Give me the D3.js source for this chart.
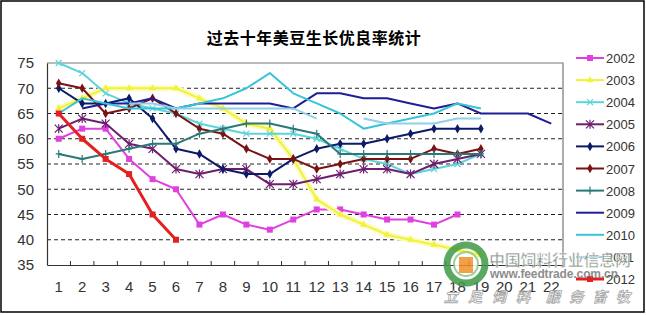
<!DOCTYPE html>
<html>
<head>
<meta charset="utf-8">
<script src="https://cdn.jsdelivr.net/npm/d3@7"></script>
<style>
  body { margin: 0; background: #fff; }
  svg { display: block; }
</style>
</head>
<body>
<script>
// weeks 1..22 on the x axis
const weeks = [1, 2, 3, 4, 5, 6, 7, 8, 9, 10, 11, 12, 13, 14, 15, 16, 17, 18, 19, 20, 21, 22];
const yTicks = [35, 40, 45, 50, 55, 60, 65, 70, 75];
const years = ['2002', '2003', '2004', '2005', '2006', '2007', '2008', '2009', '2010', '2011', '2012'];

// good/excellent rating (%) per week
const v2002 = [60, 62, 62, 56, 52, 50, 43, 45, 43, 42, 44, 46, 46, 45, 44, 44, 43, 45];
const v2003 = [66, 68, 70, 70, 70, 70, 68, 66, 63, 62, 56, 48, 45, 43, 41, 40, 39, 38, 37];
const v2004 = [75, 73, 69, 67, 66, 65, 63, 62, 61, 61, 61, 60, 58, 56, 55, 53, 54, 55, 57];
const v2005 = [62, 64, 63, 59, 58, 54, 53, 54, 54, 51, 51, 52, 53, 54, 54, 53, 55, 56, 57];
const v2006 = [70, 67, 67, 68, 64, 58, 57, 54, 53, 53, 56, 58, 59, 59, 60, 61, 62, 62, 62];
const v2007 = [71, 70, 65, 66, 68, 65, 62, 61, 58, 56, 56, 54, 55, 56, 56, 56, 58, 57, 58];
const v2008 = [57, 56, 57, 58, 59, 59, 61, 62, 63, 63, 62, 61, 57, 57, 57, 57, 57, 57, 57];
const v2009 = [null, 66, 67, 67, 68, 66, 67, 67, 67, 67, 66, 69, 69, 68, 68, 67, 66, 67, 65, 65, 65, 63];
const v2010 = [65, 68, 67, 66, 66, 66, 67, 68, 70, 73, 69, 67, 65, 62, 63, 64, 65, 67, 66];
const v2011 = [null, null, null, 67, 67, 66, 66, 66, 66, 66, 66, 64, null, 64, 63, 63, 63, 64, 64];
const v2012 = [65, 60, 56, 53, 45, 40];

const colors = ['#e040e0', '#f2f236', '#5cd4da', '#6e1e6e', '#0c1a6a', '#7a1212',
                '#2a7878', '#1e1e96', '#38c4d6', '#8fd0ea', '#e42020'];
const marks = ['square', 'triangle', 'times', 'asterisk', 'diamond', 'diamond',
               'plus', null, null, null, 'square'];
const widths = [2, 2, 2, 2, 2, 2, 2, 2, 2, 2, 3];
const values = [v2002, v2003, v2004, v2005, v2006, v2007, v2008, v2009, v2010, v2011, v2012];

const width = 646, height = 315;
const plotL = 47, plotR = 563, plotT = 63, plotB = 265;

const svg = d3.select('body').append('svg')
  .attr('width', width)
  .attr('height', height);

svg.append('rect')
  .attr('x', 1).attr('y', 1)
  .attr('width', width - 3).attr('height', height - 4)
  .attr('fill', '#fff').attr('stroke', '#000').attr('stroke-width', 1.5);

svg.append('text')
  .attr('x', 314).attr('y', 44)
  .attr('text-anchor', 'middle')
  .attr('font-family', '"Noto Sans CJK SC"')
  .attr('font-weight', 'bold')
  .attr('font-size', 16)
  .attr('letter-spacing', 0.5)
  .text('过去十年美豆生长优良率统计');

const x = d3.scaleBand().domain(weeks).range([plotL, plotR]);
const y = d3.scaleLinear().domain([35, 75]).range([plotB, plotT]);
const cx = d => x(d) + x.bandwidth() / 2;

// dashed gridlines
svg.append('g')
  .selectAll('line')
  .data(yTicks.filter(t => t > 35 && t < 75))
  .enter().append('line')
  .attr('x1', plotL).attr('x2', plotR)
  .attr('y1', d => y(d)).attr('y2', d => y(d))
  .attr('stroke', '#222').attr('stroke-dasharray', '4,3');

// plot frame (top / right in grey)
svg.append('path')
  .attr('d', `M${plotL},${plotT}H${plotR}V${plotB}`)
  .attr('fill', 'none').attr('stroke', '#777').attr('stroke-width', 1.2);

// y axis
const yAxis = svg.append('g')
  .attr('transform', `translate(${plotL},0)`)
  .call(d3.axisLeft(y).tickValues(yTicks).tickSize(0).tickPadding(13));
yAxis.select('.domain').attr('stroke', '#333').attr('stroke-width', 1.2);
yAxis.selectAll('text')
  .attr('font-family', '"Liberation Sans"').attr('font-size', 15).attr('fill', '#333');

// x axis, labels under each week, ticks between weeks pointing inward
const xAxis = svg.append('g')
  .attr('transform', `translate(0,${plotB})`)
  .call(d3.axisBottom(x).tickSize(0).tickPadding(16));
xAxis.select('.domain').attr('stroke', '#333').attr('stroke-width', 1.2);
xAxis.selectAll('text')
  .attr('font-family', '"Liberation Sans"').attr('font-size', 15).attr('fill', '#333');
xAxis.selectAll('.tb')
  .data(weeks.slice(1))
  .enter().append('line')
  .attr('x1', d => x(d)).attr('x2', d => x(d))
  .attr('y1', -4).attr('y2', 0)
  .attr('stroke', '#333');

function marker(sel, type, color, s) {
  if (type === 'square') {
    sel.append('rect').attr('x', -s / 2).attr('y', -s / 2).attr('width', s).attr('height', s)
      .attr('fill', color);
  } else if (type === 'triangle') {
    sel.append('path').attr('d', d3.symbol(d3.symbolTriangle, 22)()).attr('fill', color);
  } else if (type === 'diamond') {
    sel.append('path').attr('d', d3.symbol(d3.symbolDiamond, 26)()).attr('fill', color);
  } else if (type === 'times') {
    sel.append('path').attr('d', 'M-3,-3L3,3M-3,3L3,-3').attr('stroke', color).attr('stroke-width', 1.2);
  } else if (type === 'asterisk') {
    sel.append('path').attr('d', 'M-4,-4L4,4M-4,4L4,-4M0,-4.5V4.5').attr('stroke', color).attr('stroke-width', 1.2);
  } else if (type === 'plus') {
    sel.append('path').attr('d', 'M0,-4V4M-3,0H3').attr('stroke', color).attr('stroke-width', 1.2);
  }
}

const line = d3.line()
  .defined(d => d[1] != null)
  .x(d => cx(d[0]))
  .y(d => y(d[1]));

const plot = svg.append('g');

years.forEach(function(yr, i) {
  const pts = values[i].map((v, j) => [weeks[j], v]);
  if (yr === '2003') {
    // soft halo the jpeg gives the yellow line
    plot.append('path')
      .attr('d', line(pts))
      .attr('fill', 'none').attr('stroke', '#fbfbc4').attr('stroke-width', 6)
      .attr('stroke-linejoin', 'round');
  }
  plot.append('path')
    .attr('d', line(pts))
    .attr('fill', 'none')
    .attr('stroke', colors[i])
    .attr('stroke-width', widths[i])
    .attr('stroke-linejoin', 'round');
  if (marks[i]) {
    plot.selectAll('.m' + yr)
      .data(pts.filter(d => d[1] != null))
      .enter().append('g')
      .attr('transform', d => `translate(${cx(d[0])},${y(d[1])})`)
      .each(function() { marker(d3.select(this), marks[i], colors[i], 6); });
  }
});

// legend
const legend = svg.append('g');
years.forEach(function(yr, i) {
  const ly = 58 + i * 22.1;
  const g = legend.append('g').attr('transform', `translate(0,${ly})`);
  g.append('line')
    .attr('x1', 576).attr('x2', 604).attr('y1', 0).attr('y2', 0)
    .attr('stroke', colors[i]).attr('stroke-width', widths[i]);
  if (marks[i]) {
    const m = g.append('g').attr('transform', 'translate(590,0)');
    marker(m, marks[i], colors[i], 6);
  }
  g.append('text')
    .attr('x', 606).attr('y', 5)
    .attr('font-family', '"Liberation Sans"').attr('font-size', 13).attr('fill', '#333')
    .text(yr);
});

// site watermark, bottom right
const wm = svg.append('g').attr('opacity', 0.85);
wm.append('circle').attr('cx', 466).attr('cy', 264).attr('r', 19)
  .attr('fill', 'none').attr('stroke', '#3f9a48').attr('stroke-width', 7);
wm.append('circle').attr('cx', 466).attr('cy', 264).attr('r', 12)
  .attr('fill', '#fff').attr('stroke', '#8cc890').attr('stroke-width', 2);
wm.append('rect').attr('x', 459).attr('y', 257).attr('width', 14).attr('height', 16)
  .attr('fill', '#f0902a');
wm.append('text')
  .attr('x', 489).attr('y', 266)
  .attr('font-family', '"Noto Sans CJK SC"').attr('font-weight', 'bold').attr('font-size', 16)
  .attr('fill', '#7a8a80').attr('stroke', '#fff').attr('stroke-width', 0.6)
  .attr('textLength', 142)
  .text('中国饲料行业信息网');
wm.append('text')
  .attr('x', 490).attr('y', 278)
  .attr('font-family', '"Liberation Sans"').attr('font-weight', 'bold').attr('font-size', 12)
  .attr('fill', '#7a7a7a')
  .attr('textLength', 128)
  .text('www.feedtrade.com.cn');
wm.append('text')
  .attr('x', 444).attr('y', 302)
  .attr('font-family', '"Noto Sans CJK SC"').attr('font-style', 'italic').attr('font-weight', 'bold')
  .attr('font-size', 14)
  .attr('fill', '#fff').attr('stroke', '#999').attr('stroke-width', 0.8)
  .attr('textLength', 86)
  .text('立足饲料');
wm.append('text')
  .attr('x', 546).attr('y', 302)
  .attr('font-family', '"Noto Sans CJK SC"').attr('font-style', 'italic').attr('font-weight', 'bold')
  .attr('font-size', 14)
  .attr('fill', '#fff').attr('stroke', '#999').attr('stroke-width', 0.8)
  .attr('textLength', 84)
  .text('服务畜牧');
</script>
</body>
</html>
